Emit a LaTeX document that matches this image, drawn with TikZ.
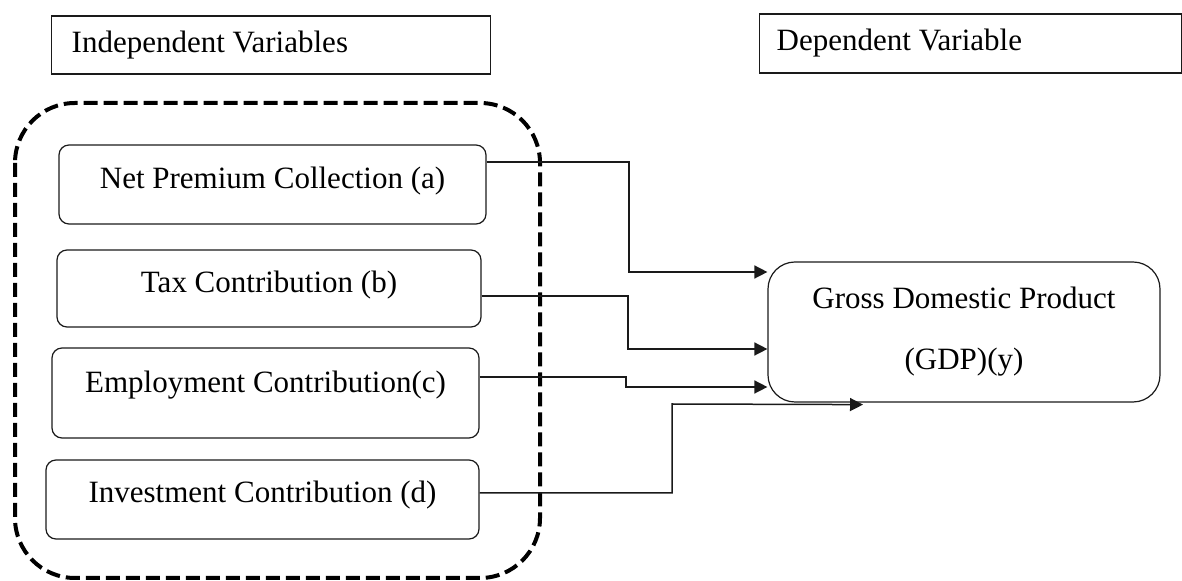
\documentclass[tikz,border=0pt]{standalone}
\usepackage{fontspec}
\setmainfont{Liberation Serif}
\usetikzlibrary{arrows.meta, positioning}
\definecolor{frameBlack}{HTML}{1A1A1A}
\tikzset{
    var node/.style={rectangle, draw=frameBlack, rounded corners=5pt, line width=0.6pt, align=center,
        font=\fontsize{15.5}{18}\selectfont, inner sep=0pt, text height=11pt},
    dv node/.style={rectangle, draw=frameBlack, rounded corners=13.5pt, line width=0.6pt, align=center,
        font=\fontsize{15.5}{30.5}\selectfont, inner sep=0pt},
    head node/.style={rectangle, draw=frameBlack, line width=0.7pt, align=flush left, anchor=west,
        font=\fontsize{15.5}{18}\selectfont, inner ysep=0pt},
    arrow style/.style={-{Triangle[length=6.5pt, width=6.5pt]}, line width=0.75pt, frameBlack},
    group frame/.style={draw=black, line width=2pt, dash pattern=on 7pt off 3pt, rounded corners=30pt},
}

\begin{document}
\begin{tikzpicture}[x=0.5pt, y=-0.5pt]
    \useasboundingbox (0,0) rectangle (1182,581);

    % headings
    \node[head node, minimum width=219.5pt, minimum height=29pt, text width=199.5pt, inner xsep=10pt] (indep) at (51,45) {Independent Variables};
    \node[head node, minimum width=211pt, minimum height=29.5pt, text width=194pt, inner xsep=8.5pt] (dep) at (759,43.5) {Dependent Variable};

    % independent variables
    \node[var node, minimum width=213.5pt, minimum height=39.5pt, text depth=7pt] (net) at (272.5,184.5) {Net Premium Collection (a)};
    \node[var node, minimum width=212pt, minimum height=38.5pt, text depth=7pt] (tax) at (269,288.5) {Tax Contribution (b)};
    \node[var node, minimum width=213.5pt, minimum height=45pt, text depth=11pt] (emp) at (265.5,393) {Employment Contribution(c)};
    \node[var node, minimum width=216.5pt, minimum height=39.5pt, text depth=7.5pt] (inv) at (262.5,499.5) {Investment Contribution (d)};

    \draw[group frame] (15,103) rectangle (540,578);

    % dependent variable
    \node[dv node, minimum width=196pt, minimum height=70pt] (gdp) at (964,332) {Gross Domestic Product\\(GDP)(y)};

    \draw[arrow style] ([yshift=11.25pt]net.east) -| (629,272) -- ([yshift=30pt]gdp.west);
    \draw[arrow style] ([yshift=-3.75pt]tax.east) -| (628,349) -- ([yshift=-8.5pt]gdp.west);
    \draw[arrow style] ([yshift=8pt]emp.east) -| (626,387) -- ([yshift=-27.5pt]gdp.west);
    \draw[arrow style] ([yshift=3.25pt]inv.east) -| (672,404) -- ([xshift=-50.5pt,yshift=-1pt]gdp.south);
\end{tikzpicture}
\end{document}
